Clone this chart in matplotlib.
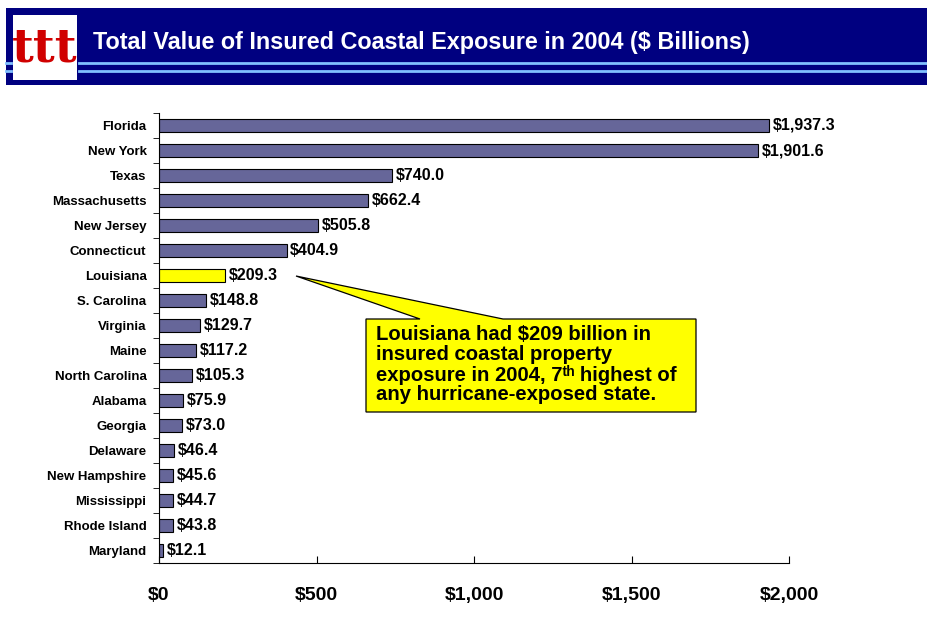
import matplotlib
matplotlib.use("Agg")
import matplotlib.pyplot as plt
from matplotlib.patches import Rectangle, Polygon
from matplotlib.lines import Line2D

plt.rcParams['font.family'] = ['Liberation Sans', 'DejaVu Sans']

states = ["Florida", "New York", "Texas", "Massachusetts", "New Jersey",
          "Connecticut", "Louisiana", "S. Carolina", "Virginia", "Maine",
          "North Carolina", "Alabama", "Georgia", "Delaware", "New Hampshire",
          "Mississippi", "Rhode Island", "Maryland"]
exposure = [1937.3, 1901.6, 740.0, 662.4, 505.8, 404.9, 209.3, 148.8, 129.7,
            117.2, 105.3, 75.9, 73.0, 46.4, 45.6, 44.7, 43.8, 12.1]
highlight = "Louisiana"
xticks = [0, 500, 1000, 1500, 2000]
xtick_labels = ["$0", "$500", "$1,000", "$1,500", "$2,000"]
title = "Total Value of Insured Coastal Exposure in 2004 ($ Billions)"
note_lines = ["Louisiana had $209 billion in",
              "insured coastal property",
              "exposure in 2004, 7\u1d57\u02b0 highest of",
              "any hurricane-exposed state."]

W, H = 927, 633
fig = plt.figure(figsize=(W / 100, H / 100), dpi=100)


def fx(px):
    return px / W


def fy(py):
    return 1 - py / H


# Header band
fig.patches.append(Rectangle((fx(6), fy(85)), fx(921), 77 / H, transform=fig.transFigure,
                             facecolor="#000080", edgecolor="none", zorder=0))
for yy in (62.5, 70.5):
    fig.lines.append(Line2D([fx(6), fx(11)], [fy(yy), fy(yy)], transform=fig.transFigure,
                            color="#80C0FF", lw=2))
    fig.lines.append(Line2D([fx(79), fx(927)], [fy(yy), fy(yy)], transform=fig.transFigure,
                            color="#80C0FF", lw=2))
fig.patches.append(Rectangle((fx(13), fy(80)), fx(64), 65 / H, transform=fig.transFigure,
                             facecolor="white", edgecolor="none", zorder=1))
fig.text(fx(45), fy(48), "ttt", transform=fig.transFigure, color="#D00000",
         fontsize=34, fontweight="bold", family="DejaVu Serif", ha="center", va="center",
         zorder=2)
fig.text(fx(93), fy(42), title.replace("$", r"\$"), color="white", fontsize=16.8,
         fontweight="bold", ha="left", va="center")

# Bar chart
ax = fig.add_axes([fx(159), fy(563), fx(789) - fx(159), (563 - 113) / H])
ypos = list(range(len(states)))
colors = ["#FFFF00" if s == highlight else "#666699" for s in states]
ax.barh(ypos, exposure, height=0.5, color=colors, edgecolor="black", linewidth=0.8)
ax.set_ylim(len(states) - 0.5, -0.5)
ax.set_xlim(0, 2000)
for y, v in zip(ypos, exposure):
    ax.text(v + 12, y, f"\\${v:,.1f}", va="center", ha="left", fontsize=11.5,
            fontweight="bold")

ax.set_yticks(ypos)
ax.set_yticklabels(states, fontsize=9.5, fontweight="bold")
ax.tick_params(axis="y", length=0, pad=9)
ax.set_yticks([y + 0.5 for y in [-1] + ypos], minor=True)
ax.tick_params(axis="y", which="minor", length=4, direction="out")
ax.set_xticks(xticks)
ax.set_xticklabels([t.replace("$", r"\$") for t in xtick_labels], fontsize=14,
                   fontweight="bold")
ax.tick_params(axis="x", direction="in", length=5, pad=17)
for s in ("top", "right"):
    ax.spines[s].set_visible(False)

# Callout
pts = [(366, 319), (420, 319), (296, 276), (503, 319), (696, 319), (696, 412), (366, 412)]
fig.patches.append(Polygon([(fx(x), fy(y)) for x, y in pts], closed=True,
                           transform=fig.transFigure, facecolor="#FFFF00",
                           edgecolor="black", linewidth=0.9, zorder=5))
fig.text(fx(376), fy(325), "\n".join(note_lines).replace("$", r"\$"), fontsize=14.6,
         fontweight="bold", ha="left", va="top", linespacing=1.05, zorder=6)

fig.savefig("out.png", dpi=100)
